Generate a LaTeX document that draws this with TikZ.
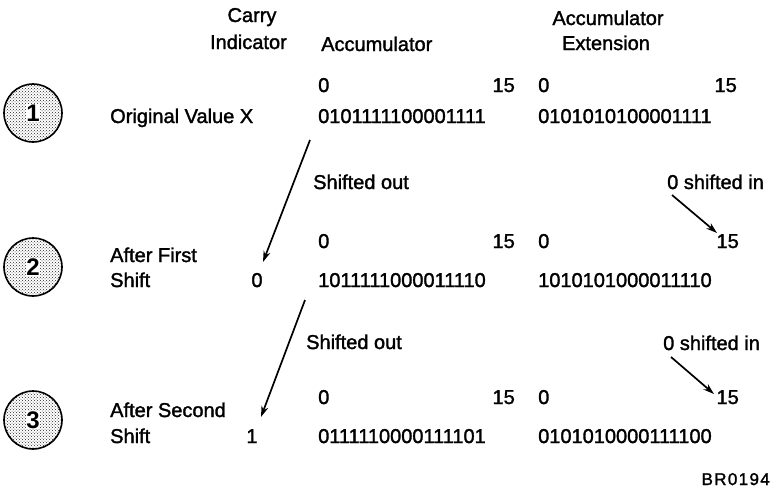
\documentclass[tikz,border=0pt]{standalone}
\usepackage{fontspec}
\setmainfont{Liberation Sans}
\newfontfamily\diagfont[FakeBold=1.6]{Liberation Sans}
\newfontfamily\codefont[FakeBold=1.6,LetterSpace=8]{Liberation Sans}
\usetikzlibrary{patterns,arrows.meta}
\begin{document}
\begin{tikzpicture}[x=1pt,y=-1pt,
  txt/.style={font=\diagfont\fontsize{20}{22}\selectfont, inner sep=0pt, anchor=base west},
  txtr/.style={txt, anchor=base east},
  txtc/.style={txt, anchor=base},
  numcirc/.style={circle, draw=black, line width=1.6pt, minimum size=58pt, inner sep=0pt,
     pattern=crosshatch dots, pattern color=black!85},
  numtxt/.style={font=\bfseries\fontsize{24}{26}\selectfont, fill=white, inner sep=0.3pt},
  arr/.style={line width=1.7pt, -{Stealth[length=11pt,width=7pt]}}]
\useasboundingbox (0,0) rectangle (773,498);
% headers
\node[txtc] (carry) at (252,22) {Carry};
\node[txtr] (indic) at (287,49) {Indicator};
\node[txt] (acchead) at (321,51) {Accumulator};
\node[txtc] (exthead1) at (608,25) {Accumulator};
\node[txtc] (exthead2) at (606,50) {Extension};
% circles
\node[numcirc] (c1) at (33,113) {};
\node[numtxt] (n1) at (33,113) {1};
\node[numcirc] (c2) at (33,267) {};
\node[numtxt] (n2) at (33,267) {2};
\node[numcirc] (c3) at (33,420) {};
\node[numtxt] (n3) at (33,420) {3};
% row 1
\node[txt] (r1lab) at (110,123) {Original Value X};
\node[txt] (r1a0) at (318,92) {0};
\node[txtr] (r1a15) at (515,92) {15};
\node[txt] (r1e0) at (538,92) {0};
\node[txtr] (r1e15) at (737,92) {15};
\node[txt] (r1acc) at (318,123) {0101111100001111};
\node[txt] (r1ext) at (538,123) {0101010100001111};
% between 1 and 2
\node[txt] (so1) at (313,189) {Shifted out};
\node[txt] (si1) at (667,189) {0 shifted in};
% row 2
\node[txt] (r2laba) at (110,262) {After First};
\node[txt] (r2labb) at (110,287) {Shift};
\node[txtc] (r2carry) at (257,287) {0};
\node[txt] (r2a0) at (318,248) {0};
\node[txtr] (r2a15) at (515,248) {15};
\node[txt] (r2e0) at (538,248) {0};
\node[txtr] (r2e15) at (739,248) {15};
\node[txt] (r2acc) at (318,287) {1011111000011110};
\node[txt] (r2ext) at (538,287) {1010101000011110};
% between 2 and 3
\node[txt] (so2) at (306,349) {Shifted out};
\node[txt] (si2) at (663,350) {0 shifted in};
% row 3
\node[txt] (r3laba) at (110,417) {After Second};
\node[txt] (r3labb) at (110,443) {Shift};
\node[txtc] (r3carry) at (252,443) {1};
\node[txt] (r3a0) at (318,404) {0};
\node[txtr] (r3a15) at (515,404) {15};
\node[txt] (r3e0) at (538,404) {0};
\node[txtr] (r3e15) at (739,404) {15};
\node[txt] (r3acc) at (318,443) {0111110000111101};
\node[txt] (r3ext) at (538,443) {0101010000111100};
\node[font=\codefont\fontsize{17}{19}\selectfont, inner sep=0pt, anchor=base east] (br) at (770,485) {BR0194};
% arrows
\coordinate (a1s) at (310,140);
\coordinate (a1e) at (263,262);
\coordinate (a2s) at (305,300);
\coordinate (a2e) at (261,417);
\coordinate (b1s) at (672,195);
\coordinate (b1e) at (717,233);
\coordinate (b2s) at (671,357);
\coordinate (b2e) at (714,394);
\draw[arr] (a1s) -- (a1e);
\draw[arr] (a2s) -- (a2e);
\draw[arr] (b1s) -- (b1e);
\draw[arr] (b2s) -- (b2e);
\end{tikzpicture}
\end{document}
